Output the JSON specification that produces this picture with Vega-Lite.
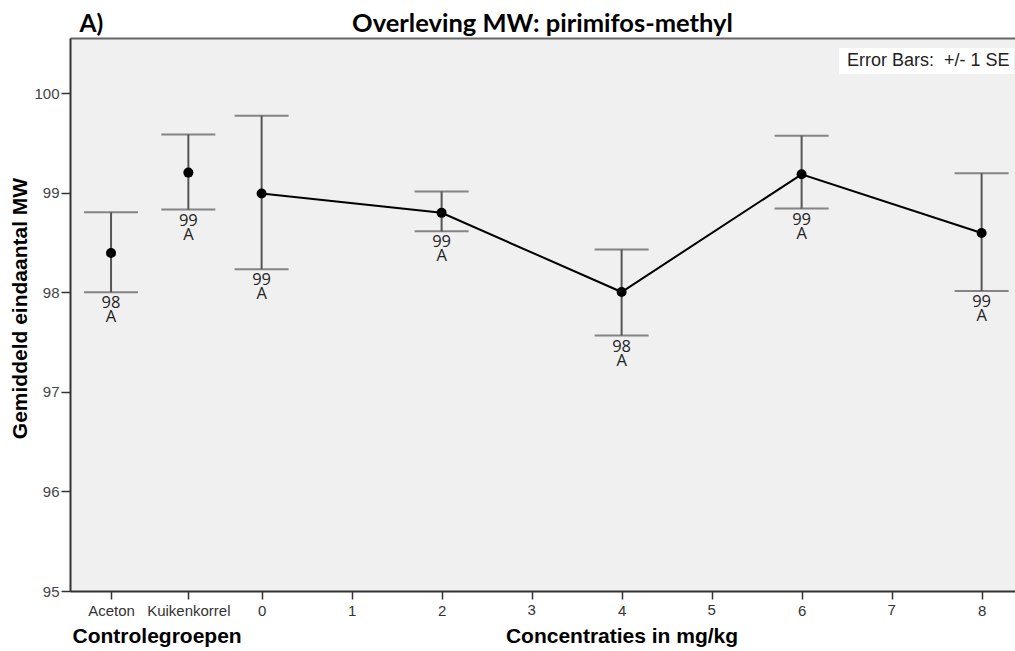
{
  "$schema": "https://vega.github.io/schema/vega-lite/v6.json",
  "width": 945,
  "height": 553,
  "autosize": {"type": "none"},
  "padding": {"left": 70, "top": 38, "right": 0, "bottom": 60},
  "background": "white",
  "config": {"view": {"fill": "#f0f0f0", "stroke": null}, "font": "Liberation Sans"},
  "title": {"text": "Overleving MW: pirimifos-methyl", "font": "Lato", "fontWeight": "bold", "fontSize": 25.5, "color": "black", "anchor": "middle", "baseline": "alphabetic", "dy": 50},
  "data": {"values": [
    {"group": "Aceton", "x": -1.673, "mean": 98.394, "lo": 98.0, "hi": 98.804, "sig": "98", "grp": "A", "eb": "Error Bars:\u00a0 +/- 1 SE"},
    {"group": "Kuikenkorrel", "x": -0.814, "mean": 99.202, "lo": 98.831, "hi": 99.586, "sig": "99", "grp": "A", "eb": "Error Bars:\u00a0 +/- 1 SE"},
    {"group": "0", "x": 0, "mean": 98.993, "lo": 98.232, "hi": 99.774, "sig": "99", "grp": "A", "eb": "Error Bars:\u00a0 +/- 1 SE"},
    {"group": "2", "x": 2, "mean": 98.798, "lo": 98.612, "hi": 99.013, "sig": "99", "grp": "A", "eb": "Error Bars:\u00a0 +/- 1 SE"},
    {"group": "4", "x": 4, "mean": 98.003, "lo": 97.566, "hi": 98.43, "sig": "98", "grp": "A", "eb": "Error Bars:\u00a0 +/- 1 SE"},
    {"group": "6", "x": 6, "mean": 99.185, "lo": 98.841, "hi": 99.572, "sig": "99", "grp": "A", "eb": "Error Bars:\u00a0 +/- 1 SE"},
    {"group": "8", "x": 8, "mean": 98.596, "lo": 98.013, "hi": 99.195, "sig": "99", "grp": "A", "eb": "Error Bars:\u00a0 +/- 1 SE"}
  ]},
  "layer": [
    {
      "mark": {"type": "rule", "color": "#555555", "strokeWidth": 2},
      "encoding": {
        "x": {"field": "x", "type": "quantitative", "scale": {"domain": [-2.129, 8.371], "nice": false, "zero": false},
          "axis": {"orient": "bottom", "values": [-1.673, -0.814, 0, 1, 2, 3, 4, 5, 6, 7, 8],
            "labelExpr": "datum.value < -1 ? 'Aceton' : datum.value < 0 ? 'Kuikenkorrel' : (datum.value == 3 || datum.value == 5 || datum.value == 7) ? '' : format(datum.value, 'd')",
            "title": "Concentraties in mg/kg", "titleX": 551.5, "titleY": 51, "titleAlign": "center", "titleBaseline": "alphabetic",
            "titleFont": "Liberation Sans", "titleFontWeight": "bold", "titleFontSize": 21, "titleColor": "black",
            "labelFont": "Liberation Sans", "labelFontSize": 15, "labelColor": "#333333", "labelPadding": 4,
            "labelFlush": false, "labelOverlap": false, "labelBound": false,
            "tickSize": 8, "tickColor": "#333333", "tickWidth": 1.5, "domainColor": "#333333", "domainWidth": 2, "grid": false}},
        "y": {"field": "lo", "type": "quantitative", "scale": {"domain": [95, 100.554], "nice": false, "zero": false},
          "axis": {"orient": "left", "values": [95, 96, 97, 98, 99, 100], "format": "d", "title": "Gemiddeld eindaantal MW",
            "titleX": -50, "titleY": 270, "titleAngle": -90, "titleAlign": "center", "titleBaseline": "middle",
            "titleFont": "Liberation Sans", "titleFontWeight": "bold", "titleFontSize": 21, "titleColor": "black",
            "labelFont": "Liberation Sans", "labelFontSize": 15, "labelColor": "#444444", "labelPadding": 2,
            "tickSize": 9, "tickColor": "#333333", "tickWidth": 1.5, "domainColor": "#333333", "domainWidth": 2, "grid": false}},
        "y2": {"field": "hi"}
      }
    },
    {
      "mark": {"type": "tick", "orient": "horizontal", "size": 54, "thickness": 2, "color": "#555555"},
      "encoding": {
        "x": {"field": "x", "type": "quantitative",
          "axis": {"orient": "top", "domain": true, "domainColor": "#666666", "domainWidth": 2, "ticks": false, "labels": false, "grid": false,
            "title": "A)", "titleX": 9, "titleY": -7, "titleAlign": "left", "titleBaseline": "alphabetic",
            "titleFont": "Lato", "titleFontWeight": "bold", "titleFontSize": 24.5, "titleColor": "black"}},
        "y": {"field": "lo", "type": "quantitative", "axis": null}
      }
    },
    {
      "mark": {"type": "tick", "orient": "horizontal", "size": 54, "thickness": 2, "color": "#555555"},
      "encoding": {
        "x": {"field": "x", "type": "quantitative",
          "axis": {"orient": "bottom", "domain": false, "ticks": false, "labels": false, "grid": false,
            "title": "Controlegroepen", "titleX": 2, "titleY": 51, "titleAlign": "left", "titleBaseline": "alphabetic",
            "titleFont": "Liberation Sans", "titleFontWeight": "bold", "titleFontSize": 21, "titleColor": "black"}},
        "y": {"field": "hi", "type": "quantitative", "axis": null}
      }
    },
    {
      "transform": [{"filter": "datum.x >= 0"}],
      "mark": {"type": "line", "color": "black", "strokeWidth": 2},
      "encoding": {
        "x": {"field": "x", "type": "quantitative", "axis": null},
        "y": {"field": "mean", "type": "quantitative", "axis": null}
      }
    },
    {
      "mark": {"type": "circle", "size": 100, "opacity": 1},
      "encoding": {
        "x": {"field": "x", "type": "quantitative", "axis": null},
        "y": {"field": "mean", "type": "quantitative", "axis": null},
        "color": {"field": "eb", "type": "nominal", "scale": {"range": ["black"]},
          "legend": {"title": null, "orient": "none", "legendX": 769, "legendY": 10, "fillColor": "white", "padding": 4,
            "symbolSize": 1, "symbolStrokeWidth": 0, "symbolOpacity": 0, "labelOffset": -14,
            "labelFont": "Liberation Sans", "labelFontSize": 18, "labelColor": "#222222", "labelLimit": 400}}
      }
    },
    {
      "mark": {"type": "text", "dy": 11, "baseline": "middle", "align": "center", "font": "Open Sans", "fontSize": 16.5, "color": "#222222"},
      "encoding": {
        "x": {"field": "x", "type": "quantitative", "axis": null},
        "y": {"field": "lo", "type": "quantitative", "axis": null},
        "text": {"field": "sig", "type": "nominal"}
      }
    },
    {
      "mark": {"type": "text", "dy": 25, "baseline": "middle", "align": "center", "font": "Open Sans", "fontSize": 16.5, "color": "#222222"},
      "encoding": {
        "x": {"field": "x", "type": "quantitative", "axis": null},
        "y": {"field": "lo", "type": "quantitative", "axis": null},
        "text": {"field": "grp", "type": "nominal"}
      }
    },
    {
      "data": {"values": [{"tick": 3}, {"tick": 5}, {"tick": 7}]},
      "mark": {"type": "text", "baseline": "top", "align": "center", "dy": 12, "font": "Liberation Sans", "fontSize": 15, "color": "#333333", "clip": false},
      "encoding": {
        "x": {"field": "tick", "type": "quantitative", "axis": null},
        "y": {"datum": 95, "type": "quantitative", "axis": null},
        "text": {"field": "tick", "type": "quantitative", "format": "d"}
      }
    }
  ],
  "resolve": {"axis": {"x": "independent", "y": "independent"}}
}
